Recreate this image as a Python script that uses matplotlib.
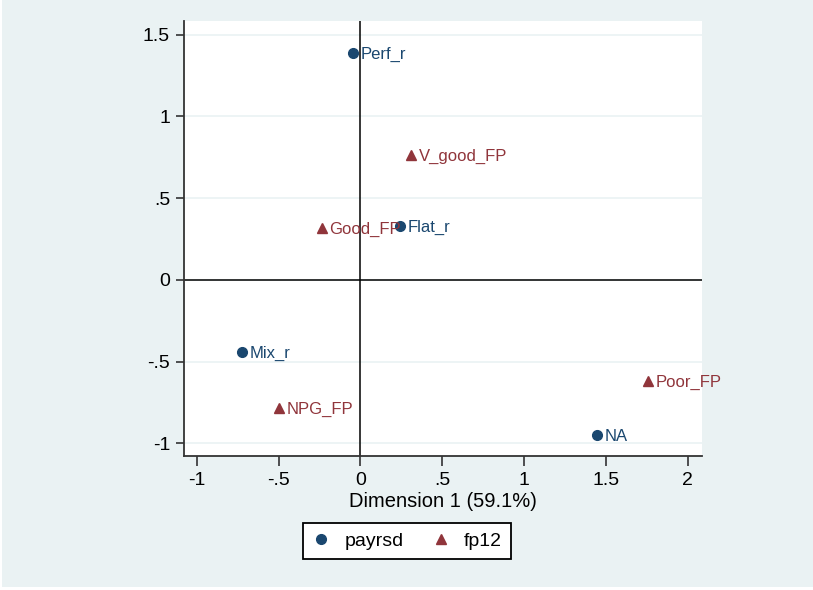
import matplotlib
matplotlib.use("Agg")
import matplotlib.pyplot as plt
from matplotlib.patches import Rectangle
from matplotlib.lines import Line2D

plt.rcParams['font.family'] = ['Liberation Sans', 'DejaVu Sans']

# Data
payrsd_labels = ["Perf_r", "Flat_r", "Mix_r", "NA"]
payrsd_x = [-0.045, 0.239, -0.724, 1.445]
payrsd_y = [1.387, 0.329, -0.439, -0.950]

fp12_labels = ["V_good_FP", "Good_FP", "NPG_FP", "Poor_FP"]
fp12_x = [0.308, -0.237, -0.498, 1.757]
fp12_y = [0.765, 0.318, -0.785, -0.616]

xticks = [-1, -0.5, 0, 0.5, 1, 1.5, 2]
xticklabels = ["-1", "-.5", "0", ".5", "1", "1.5", "2"]
yticks = [-1, -0.5, 0, 0.5, 1, 1.5]
yticklabels = ["-1", "-.5", "0", ".5", "1", "1.5"]

navy = "#1a476f"
maroon = "#90353b"
bg = "#eaf2f3"

W, H = 813, 590
fig = plt.figure(figsize=(W / 100, H / 100), dpi=100, facecolor="white")
fig.patches.append(Rectangle((2 / W, 3 / H), 1 - 2 / W, 1 - 3 / H,
                             transform=fig.transFigure, facecolor=bg,
                             edgecolor="none", zorder=-10))

ax_l, ax_r, ax_t, ax_b = 184, 702, 20.7, 455.7
ax = fig.add_axes([ax_l / W, 1 - ax_b / H, (ax_r - ax_l) / W, (ax_b - ax_t) / H])
ax.set_facecolor("white")
ax.set_xlim(-1.078, 2.086)
ax.set_ylim(-1.075, 1.586)

for s in ["top", "right"]:
    ax.spines[s].set_visible(False)
for s in ["left", "bottom"]:
    ax.spines[s].set_color("#333333")
    ax.spines[s].set_linewidth(1.3)

ax.set_xticks(xticks)
ax.set_xticklabels(xticklabels)
ax.set_yticks(yticks)
ax.set_yticklabels(yticklabels)
ax.tick_params(axis="x", direction="out", length=7, width=1.2, color="#333333",
               labelsize=14, labelcolor="black", pad=5)
ax.tick_params(axis="y", direction="out", length=6, width=1.2, color="#333333",
               labelsize=14, labelcolor="black", pad=4)

for yv in yticks:
    ax.axhline(yv, color=bg, linewidth=1.2, zorder=0)
ax.axhline(0, color="black", linewidth=1.1, zorder=1)
ax.axvline(0, color="black", linewidth=1.1, zorder=1)

ax.plot(payrsd_x, payrsd_y, linestyle="none", marker="o", markersize=7,
        color=navy, zorder=3)
ax.plot(fp12_x, fp12_y, linestyle="none", marker="^", markersize=7.5,
        color=maroon, zorder=3)

for x, y, t in zip(payrsd_x, payrsd_y, payrsd_labels):
    ax.annotate(t, (x, y), xytext=(5.5, -1), textcoords="offset points",
                ha="left", va="center", fontsize=12, color=navy, zorder=4)
for x, y, t in zip(fp12_x, fp12_y, fp12_labels):
    ax.annotate(t, (x, y), xytext=(5.5, -1), textcoords="offset points",
                ha="left", va="center", fontsize=12, color=maroon, zorder=4)

ax.set_xlabel("Dimension 1 (59.1%)", fontsize=14.5, labelpad=2)

handles = [Line2D([], [], linestyle="none", marker="o", markersize=7, color=navy),
           Line2D([], [], linestyle="none", marker="^", markersize=7.5, color=maroon)]
leg = fig.legend(handles, ["payrsd", "fp12"], ncol=2, loc="center",
                 bbox_to_anchor=(407 / W, 1 - 541 / H), fontsize=14,
                 frameon=True, fancybox=False, edgecolor="black",
                 handletextpad=0.7, columnspacing=1.4, borderpad=0.45,
                 handlelength=1.0)
leg.get_frame().set_linewidth(1.3)
leg.get_frame().set_facecolor("white")
leg.get_frame().set_alpha(1)

fig.savefig("out.png", dpi=100, facecolor=fig.get_facecolor())
